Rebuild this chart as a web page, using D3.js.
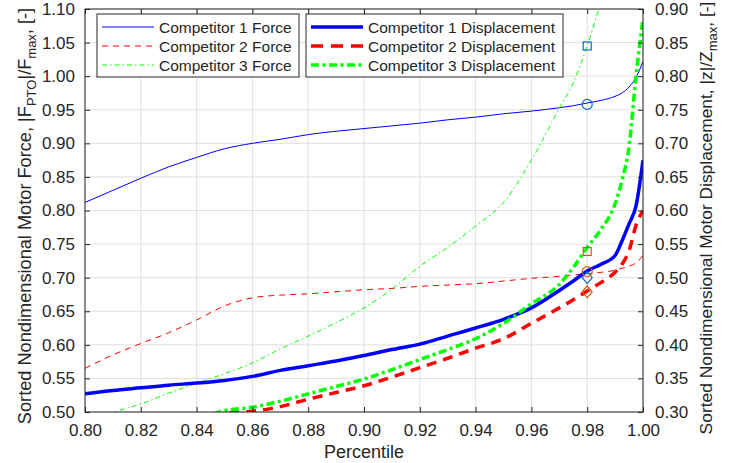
<!DOCTYPE html>
<html>
<head>
<meta charset="utf-8">
<script src="https://cdn.jsdelivr.net/npm/d3@7"></script>
<style>
  body { margin: 0; background: #fff; }
  svg { font-family: "Liberation Sans", Arial, sans-serif; }
</style>
</head>
<body>
<svg width="729" height="463"></svg>
<script>
// percentile grid shared by all series
var percentile = [0.80, 0.81, 0.82, 0.83, 0.84, 0.85, 0.86, 0.87, 0.88, 0.89, 0.90, 0.91, 0.92,
                  0.93, 0.94, 0.95, 0.96, 0.97, 0.975, 0.98, 0.985, 0.99, 0.9925, 0.995, 0.9975, 1.0];

// force, left axis
var force1 = [0.812, 0.830, 0.848, 0.865, 0.879, 0.892, 0.900, 0.906, 0.913, 0.918, 0.922, 0.926, 0.930,
              0.935, 0.939, 0.944, 0.948, 0.953, 0.956, 0.960, 0.964, 0.970, 0.975, 0.984, 0.998, 1.022];
var force2 = [0.565, 0.585, 0.602, 0.618, 0.637, 0.658, 0.670, 0.674, 0.676, 0.679, 0.682, 0.684, 0.687,
              0.689, 0.691, 0.695, 0.699, 0.702, 0.704, 0.706, 0.708, 0.711, 0.714, 0.717, 0.722, 0.733];
var force3 = [0.482, 0.499, 0.512, 0.528, 0.543, 0.557, 0.573, 0.594, 0.613, 0.633, 0.655, 0.683, 0.717,
              0.745, 0.777, 0.812, 0.875, 0.952, 0.990, 1.045, 1.110, 1.170, null, null, null, null];

// displacement, right axis
var disp1 = [0.327, 0.332, 0.336, 0.340, 0.343, 0.347, 0.353, 0.362, 0.369, 0.376, 0.384, 0.393, 0.401,
             0.413, 0.425, 0.438, 0.455, 0.481, 0.495, 0.510, 0.520, 0.533, 0.555, 0.580, 0.607, 0.675];
var disp2 = [null, null, null, null, 0.285, 0.298, 0.301, 0.308, 0.319, 0.329, 0.339, 0.352, 0.366,
             0.380, 0.395, 0.409, 0.432, 0.455, 0.467, 0.480, 0.493, 0.508, 0.520, 0.540, 0.578, 0.600];
var disp3 = [null, null, null, null, 0.288, 0.302, 0.307, 0.316, 0.327, 0.338, 0.349, 0.363, 0.378,
             0.393, 0.409, 0.432, 0.461, 0.490, 0.515, 0.545, 0.572, 0.610, 0.645, 0.695, 0.800, 0.885];

// 98th percentile markers
var markPct = 0.98;
var forceMarks = [{v: 1.045, shape: "square"}, {v: 0.958, shape: "circle"}, {v: 0.700, shape: "diamond"}];
var dispMarks = [{v: 0.539, shape: "square"}, {v: 0.509, shape: "circle"}, {v: 0.479, shape: "diamond"}];

var xTicks = d3.range(0.80, 1.0001, 0.02);
var yLeftTicks = d3.range(0.50, 1.1001, 0.05);
var yRightTicks = d3.range(0.30, 0.9001, 0.05);

var svg = d3.select("svg");
var margin = {top: 9, right: 86, bottom: 51, left: 85};
var width = +svg.attr("width"), height = +svg.attr("height");
var x0 = margin.left, x1 = width - margin.right, y0 = height - margin.bottom, y1 = margin.top;

var scX = d3.scaleLinear().domain([0.80, 1.0]).range([x0, x1]);
var scL = d3.scaleLinear().domain([0.50, 1.10]).range([y0, y1]);
var scR = d3.scaleLinear().domain([0.30, 0.90]).range([y0, y1]);

var axisCol = "#262626";

// grid
var grid = svg.append("g").attr("stroke", "#dfdfdf").attr("stroke-width", 1);
grid.selectAll(".gx").data(xTicks).enter().append("line")
    .attr("x1", d => scX(d)).attr("x2", d => scX(d)).attr("y1", y0).attr("y2", y1);
grid.selectAll(".gy").data(yLeftTicks).enter().append("line")
    .attr("y1", d => scL(d)).attr("y2", d => scL(d)).attr("x1", x0).attr("x2", x1);

svg.append("clipPath").attr("id", "clip").append("rect")
    .attr("x", x0).attr("y", y1).attr("width", x1 - x0).attr("height", y0 - y1);

var plot = svg.append("g").attr("clip-path", "url(#clip)");

var series = [
    {vals: force1, sc: scL, color: "#0000ff", w: 1, dash: null},
    {vals: force2, sc: scL, color: "#ff0000", w: 1, dash: "6,5"},
    {vals: force3, sc: scL, color: "#00ff00", w: 1, dash: "5,3,1.5,3"},
    {vals: disp1, sc: scR, color: "#0000ff", w: 3.5, dash: null},
    {vals: disp2, sc: scR, color: "#ff0000", w: 3.5, dash: "10,7"},
    {vals: disp3, sc: scR, color: "#00ff00", w: 3.5, dash: "8,3.5,3,3.5"}
];

series.forEach(function(s){
    var line = d3.line()
        .defined(d => d[1] !== null)
        .curve(d3.curveMonotoneX)
        .x(d => scX(d[0]))
        .y(d => s.sc(d[1]));
    plot.append("path")
        .attr("fill", "none")
        .attr("stroke", s.color)
        .attr("stroke-width", s.w)
        .attr("stroke-dasharray", s.dash)
        .attr("d", line(percentile.map((p, i) => [p, s.vals[i]])));
});

// markers
var drawMark = function(g, cx, cy, shape){
    if (shape === "square") {
        g.append("rect").attr("x", cx - 4).attr("y", cy - 4).attr("width", 8).attr("height", 8);
    } else if (shape === "circle") {
        g.append("circle").attr("cx", cx).attr("cy", cy).attr("r", 5);
    } else {
        g.append("path").attr("d", `M${cx},${cy - 6}L${cx + 5},${cy}L${cx},${cy + 6}L${cx - 5},${cy}Z`);
    }
};
var gMarkF = plot.append("g").attr("fill", "none").attr("stroke", "#0072bd").attr("stroke-width", 1.2);
forceMarks.forEach(m => drawMark(gMarkF, scX(markPct), scL(m.v), m.shape));
var gMarkD = plot.append("g").attr("fill", "none").attr("stroke", "#d95319").attr("stroke-width", 1.2);
dispMarks.forEach(m => drawMark(gMarkD, scX(markPct), scR(m.v), m.shape));

// axes
var fmt = d3.format(".2f");
var styleAxis = function(g){
    g.selectAll("path").attr("stroke", axisCol);
    g.selectAll("line").attr("stroke", axisCol);
    g.selectAll("text").attr("fill", axisCol).style("font-size", "17px");
};
svg.append("g").attr("transform", `translate(0,${y0})`)
    .call(d3.axisBottom(scX).tickValues(xTicks).tickFormat(fmt).tickSizeInner(-5).tickSizeOuter(0).tickPadding(12))
    .call(styleAxis).call(g => g.select(".domain").remove());
svg.append("g").attr("transform", `translate(0,${y1})`)
    .call(d3.axisTop(scX).tickValues(xTicks).tickFormat("").tickSizeInner(-5).tickSizeOuter(0))
    .call(styleAxis).call(g => g.select(".domain").remove());
svg.append("g").attr("transform", `translate(${x0},0)`)
    .call(d3.axisLeft(scL).tickValues(yLeftTicks).tickFormat(fmt).tickSizeInner(-5).tickSizeOuter(0).tickPadding(10))
    .call(styleAxis).call(g => g.select(".domain").remove());
svg.append("g").attr("transform", `translate(${x1},0)`)
    .call(d3.axisRight(scR).tickValues(yRightTicks).tickFormat(fmt).tickSizeInner(-5).tickSizeOuter(0).tickPadding(12))
    .call(styleAxis).call(g => g.select(".domain").remove());

svg.append("rect").attr("x", x0).attr("y", y1).attr("width", x1 - x0).attr("height", y0 - y1)
    .attr("fill", "none").attr("stroke", axisCol).attr("stroke-width", 1);

// axis titles
svg.append("text").attr("x", (x0 + x1) / 2).attr("y", 458).attr("text-anchor", "middle")
    .attr("fill", axisCol).style("font-size", "18px").text("Percentile");

var yTitle = function(xPos, yPos, size, parts){
    var t = svg.append("text")
        .attr("transform", `translate(${xPos},${yPos}) rotate(-90)`)
        .attr("text-anchor", "middle").attr("fill", axisCol).style("font-size", size + "px");
    parts.forEach(function(p){
        t.append("tspan").attr("dy", p.sub ? 5 : (p.after ? -5 : 0))
            .style("font-size", p.sub ? "13px" : null).text(p.t);
    });
};
yTitle(31, 216, 18.2, [{t: "Sorted Nondimensional Motor Force, |F"}, {t: "PTO", sub: true}, {t: "|/F", after: true},
            {t: "max", sub: true}, {t: ", [-]", after: true}]);
yTitle(712, 218, 17.4, [{t: "Sorted Nondimensional Motor Displacement, |z|/Z"}, {t: "max", sub: true}, {t: ", [-]", after: true}]);

// legends
var legendF = [
    {label: "Competitor 1 Force", color: "#0000ff", w: 1, dash: null},
    {label: "Competitor 2 Force", color: "#ff0000", w: 1, dash: "6,5"},
    {label: "Competitor 3 Force", color: "#00ff00", w: 1, dash: "5,3,1.5,3"}
];
var legendD = [
    {label: "Competitor 1 Displacement", color: "#0000ff", w: 3.5, dash: null},
    {label: "Competitor 2 Displacement", color: "#ff0000", w: 3.5, dash: "12,8"},
    {label: "Competitor 3 Displacement", color: "#00ff00", w: 3.5, dash: "8,3.5,3,3.5"}
];
var drawLegend = function(items, bx, bw){
    var g = svg.append("g");
    g.append("rect").attr("x", bx).attr("y", 14).attr("width", bw).attr("height", 63)
        .attr("fill", "#fff").attr("stroke", axisCol).attr("stroke-width", 1);
    items.forEach(function(it, i){
        var yy = 27 + i * 19;
        g.append("line").attr("x1", bx + 5).attr("x2", bx + 57).attr("y1", yy).attr("y2", yy)
            .attr("stroke", it.color).attr("stroke-width", it.w).attr("stroke-dasharray", it.dash);
        g.append("text").attr("x", bx + 62).attr("y", yy + 5.5).attr("fill", axisCol)
            .style("font-size", "15.5px").text(it.label);
    });
};
drawLegend(legendF, 97, 202);
drawLegend(legendD, 306, 257);
</script>
</body>
</html>
